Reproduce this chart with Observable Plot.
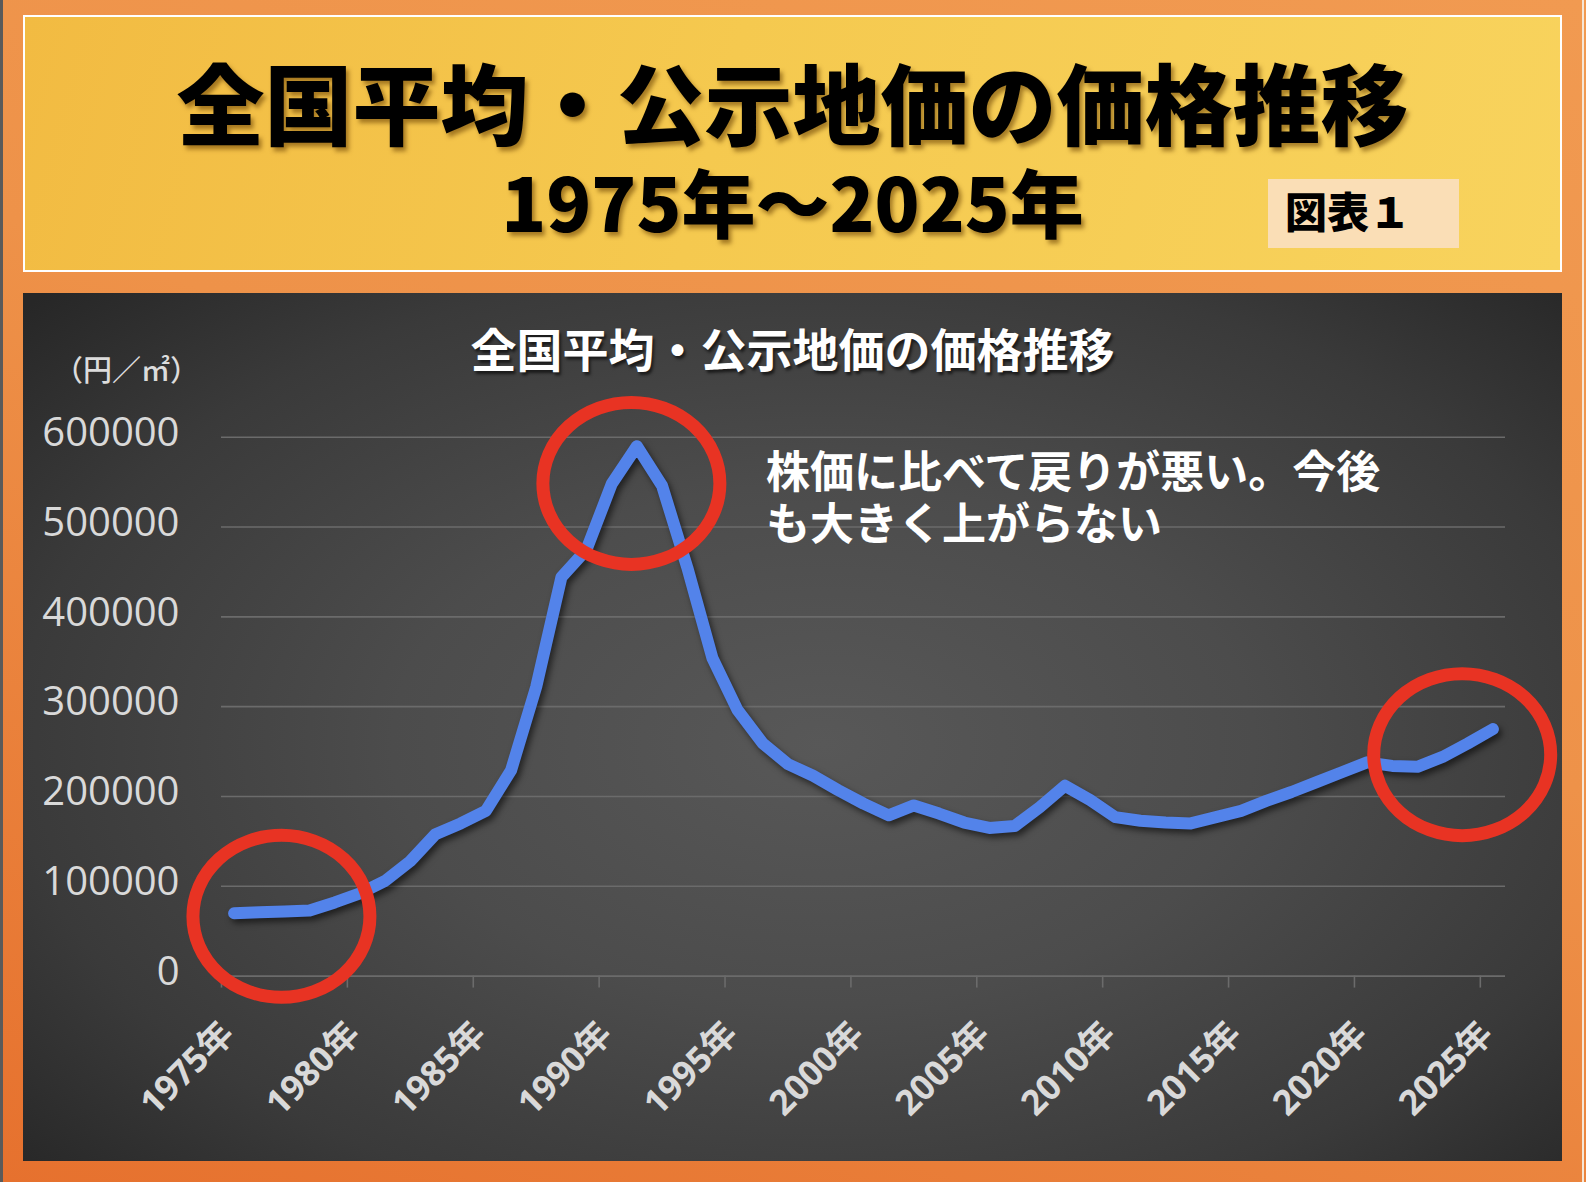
<!DOCTYPE html>
<html><head><meta charset="utf-8">
<script src="https://cdn.jsdelivr.net/npm/d3@7"></script>
<script src="https://cdn.jsdelivr.net/npm/@observablehq/plot@0.6"></script>
<style>
html,body{margin:0;padding:0;}
body{width:1586px;height:1182px;position:relative;overflow:hidden;
  font-family:"Noto Sans CJK JP","Noto Sans",sans-serif;
  background:linear-gradient(200deg,#f19a51 0%,#ee9249 45%,#e6712e 100%);}
#lstrip{position:absolute;left:0;top:0;width:3px;height:1182px;background:#5a5a5a;}
#rstrip{position:absolute;left:1582px;top:0;width:2px;height:1182px;background:#f6e6d6;}
#header{position:absolute;left:23px;top:15px;width:1535px;height:253px;border:2px solid #fff;
  background:linear-gradient(105deg,#f2bb42 0%,#f5c94f 45%,#f8d35d 100%);}
.title{position:absolute;left:23px;width:1539px;text-align:center;color:#000;font-weight:900;white-space:nowrap;
  text-shadow:3px 4px 4px rgba(100,60,0,0.55);}
#t1{top:50px;font-size:88px;line-height:100px;}
#t2{top:158px;font-size:74px;line-height:84px;}
#badge{position:absolute;left:1268px;top:179px;width:191px;height:69px;background:#fadeb6;}
#badge span{position:absolute;left:17px;top:6px;font-size:42px;line-height:50px;font-weight:900;color:#000;}
#panel{position:absolute;left:23px;top:293px;width:1539px;height:868px;
  background:radial-gradient(ellipse 70% 75% at 52% 52%,#585858 0%,#4c4c4c 40%,#3a3a3a 75%,#272727 100%);}
#ctitle{position:absolute;left:0;width:1539px;top:24px;text-align:center;font-size:46px;line-height:60px;font-weight:700;color:#fff;
  text-shadow:2px 3px 3px rgba(0,0,0,0.6);white-space:nowrap;}
#unit{position:absolute;left:31px;top:60px;font-size:29px;line-height:30px;color:#dcdcdc;white-space:nowrap;font-weight:500;}
.note{position:absolute;left:743px;font-size:44px;line-height:46px;font-weight:700;color:#fff;white-space:nowrap;}
#n1{top:153px;}
#n2{top:205px;}
#chart{position:absolute;left:0;top:0;}
#chart svg [aria-label="line"]{filter:drop-shadow(3px 4px 3px rgba(0,0,0,0.55));}
</style></head>
<body>
<div id="lstrip"></div>
<div id="rstrip"></div>
<div id="header"></div>
<div class="title" id="t1">全国平均・公示地価の価格推移</div>
<div class="title" id="t2">1975年～2025年</div>
<div id="badge"><span>図表１</span></div>
<div id="panel">
  <div id="chart"></div>
  <div id="ctitle">全国平均・公示地価の価格推移</div>
  <div id="unit">（円／㎡）</div>
  <div class="note" id="n1">株価に比べて戻りが悪い。今後</div>
  <div class="note" id="n2">も大きく上がらない</div>
</div>
<script>
const years = [1975,1976,1977,1978,1979,1980,1981,1982,1983,1984,
  1985,1986,1987,1988,1989,1990,1991,1992,1993,1994,
  1995,1996,1997,1998,1999,2000,2001,2002,2003,2004,
  2005,2006,2007,2008,2009,2010,2011,2012,2013,2014,
  2015,2016,2017,2018,2019,2020,2021,2022,2023,2024,2025];
const prices = [70000,71000,72000,73000,82000,92000,106000,128000,158000,170000,
  184000,229000,322000,444000,475000,548000,590000,546000,455000,354000,
  296000,259000,236000,223000,207000,192000,179000,190000,181000,171000,
  165000,167000,188000,212000,196000,177000,173000,171000,170000,177000,
  184000,195000,205000,216000,227000,238000,234000,233000,244000,259000,275000];
const tickYears = [1975,1980,1985,1990,1995,2000,2005,2010,2015,2020,2025];
const yTicks = [0,100000,200000,300000,400000,500000,600000];
const highlightYears = [1976.9, 1990.8, 2023.8];
const highlightPrices = [66000, 548000, 246000];

const data = years.map((year, i) => ({year, price: prices[i]}));

function highlightMark(index, scales) {
  const g = d3.create("svg:g");
  highlightYears.forEach((yr, i) => {
    g.append("ellipse")
      .attr("cx", scales.x(yr)).attr("cy", scales.y(highlightPrices[i]))
      .attr("rx", 88.5).attr("ry", 81)
      .attr("fill", "none").attr("stroke", "#E83323").attr("stroke-width", 13);
  });
  return g.node();
}

const chart = Plot.plot({
  width: 1539, height: 868,
  marginLeft: 198, marginRight: 57, marginTop: 143.7, marginBottom: 185.4,
  style: {background: "transparent", color: "#d9d9d9", fontFamily: "'Open Sans','Noto Sans CJK JP',sans-serif", overflow: "visible"},
  x: {domain: [1974.5, 2025.5]},
  y: {domain: [0, 600000]},
  marks: [
    Plot.ruleY(yTicks, {stroke: "#6b6b6b", strokeWidth: 1.6}),
    Plot.axisX({ticks: tickYears.map(d => d - 0.5), tickSize: 12, tickFormat: () => "", stroke: "#6b6b6b", strokeWidth: 1.6, label: null}),
    Plot.axisY({ticks: yTicks, tickSize: 0, tickPadding: 42, tickFormat: d => String(d), fontSize: 40, fill: "#d9d9d9", dy: -4, label: null}),
    Plot.text(tickYears, {x: d => d, y: () => 0, text: d => d + "年", rotate: -45, textAnchor: "end", lineAnchor: "middle",
      dx: -6, dy: 52, fontSize: 35, fontWeight: "bold", fill: "#d9d9d9"}),
    Plot.line(data, {x: "year", y: "price", stroke: "#5383EA", strokeWidth: 12, strokeLinecap: "round", strokeLinejoin: "round"}),
    highlightMark
  ]
});
document.getElementById("chart").appendChild(chart);
</script>
</body></html>
